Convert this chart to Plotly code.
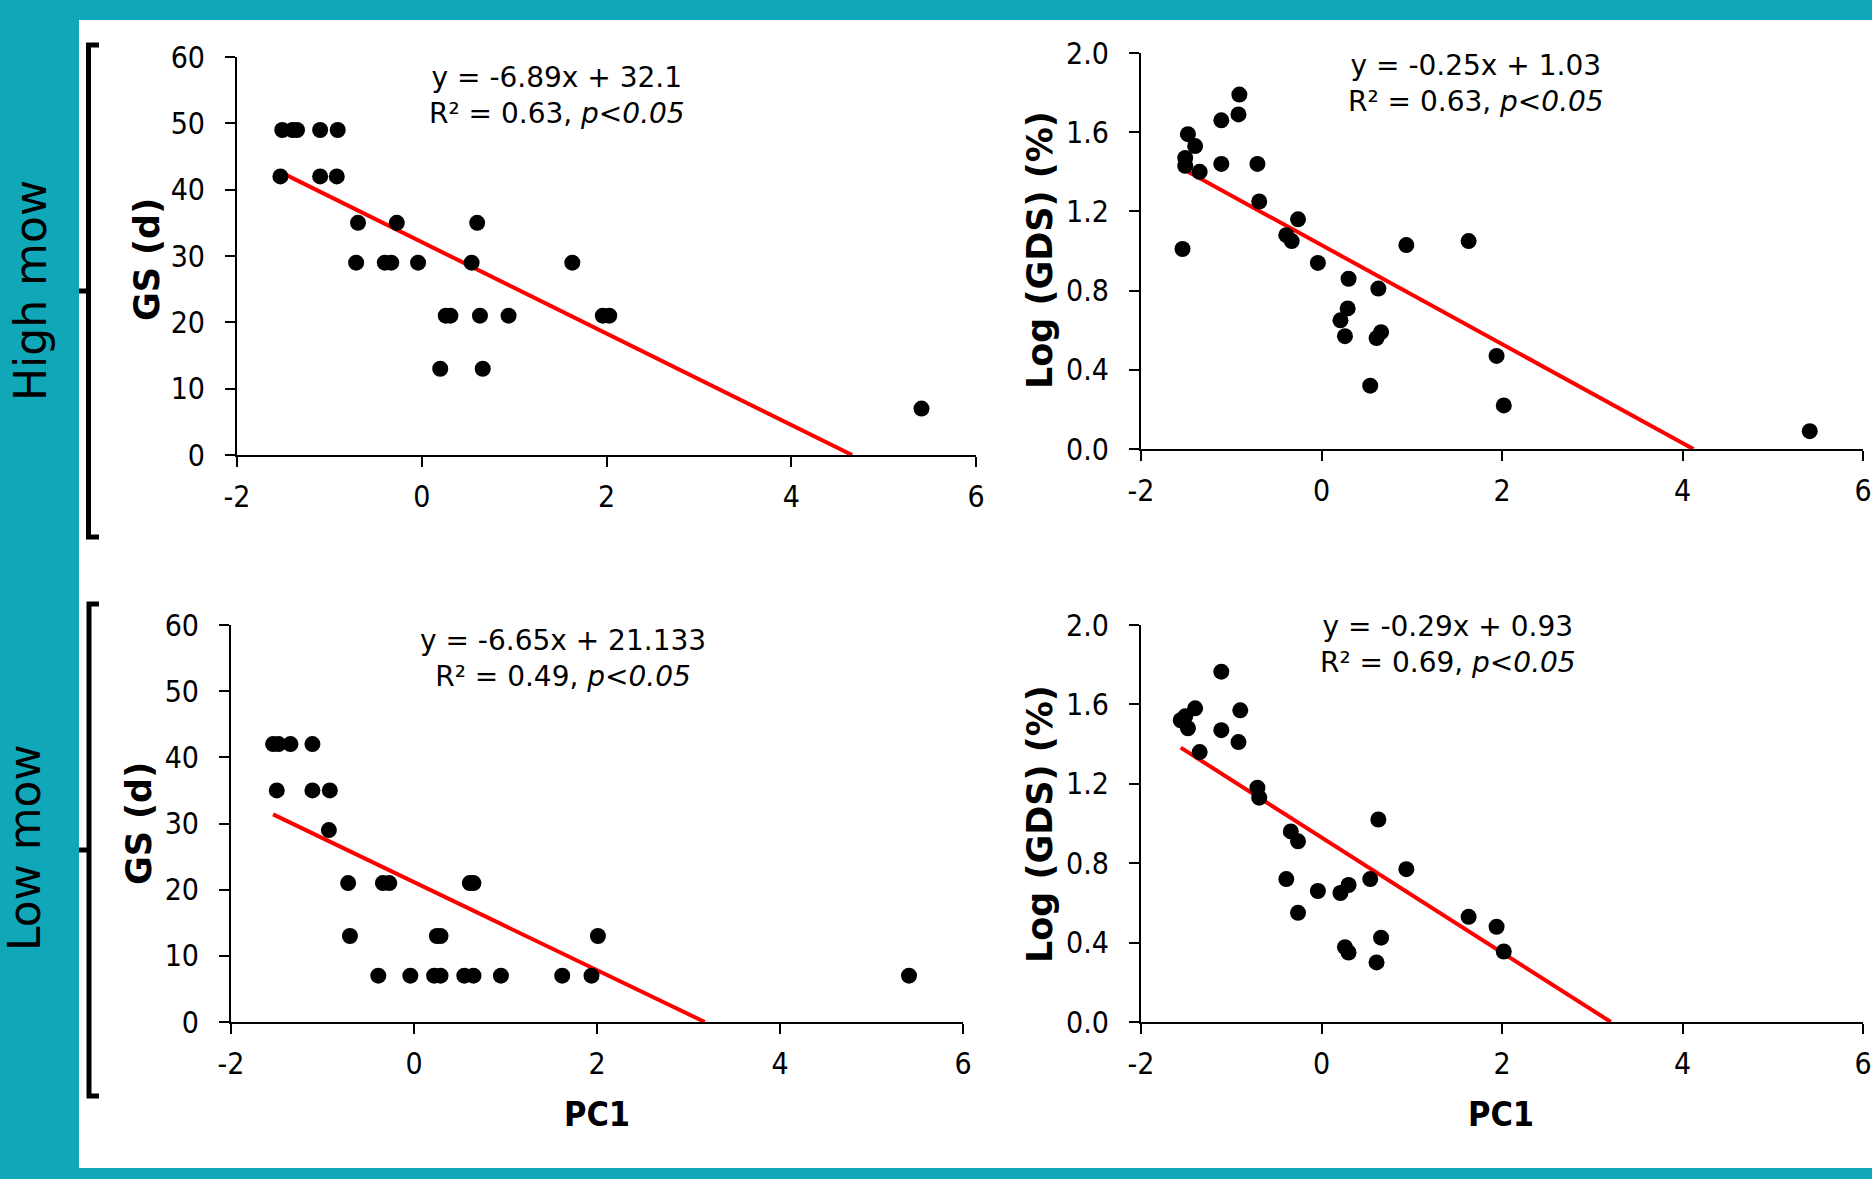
import plotly.graph_objects as go

W, H = 1872, 1179
TEAL = "rgb(16,168,184)"

# ---------------- data ----------------
# High mow, GS (d)
hi_gs_x = [-1.51, -1.40, -1.35, -1.10, -0.91, -1.53, -1.10, -0.92, -0.69, -0.27, 0.60,
           -0.71, -0.40, -0.33, -0.04, 0.54, 1.63, 0.26, 0.31, 0.63, 0.94, 1.96, 2.03,
           0.20, 0.66, 5.41]
hi_gs_y = [49, 49, 49, 49, 49, 42, 42, 42, 35, 35, 35,
           29, 29, 29, 29, 29, 29, 21, 21, 21, 21, 21, 21,
           13, 13, 7]

# High mow, Log (GDS) (%)
hi_gds_x = [-0.91, -0.92, -1.11, -1.48, -1.40, -1.51, -1.51, -1.35, -1.11, -0.71,
            -0.69, -0.26, -0.39, -0.33, -1.54, -0.04, 0.94, 1.63, 0.30, 0.63,
            0.29, 0.21, 0.26, 0.66, 0.61, 0.54, 1.94, 2.02, 5.41]
hi_gds_y = [1.79, 1.69, 1.66, 1.59, 1.53, 1.47, 1.43, 1.40, 1.44, 1.44,
            1.25, 1.16, 1.08, 1.05, 1.01, 0.94, 1.03, 1.05, 0.86, 0.81,
            0.71, 0.65, 0.57, 0.59, 0.56, 0.32, 0.47, 0.22, 0.09]

# Low mow, GS (d)
lo_gs_x = [-1.54, -1.48, -1.35, -1.11, -1.50, -1.11, -0.92, -0.93,
           -0.72, -0.34, -0.27, 0.61, 0.65, -0.70, 0.25, 0.29, 2.01,
           -0.39, -0.04, 0.22, 0.29, 0.55, 0.65, 0.95, 1.62, 1.94, 5.41]
lo_gs_y = [42, 42, 42, 42, 35, 35, 35, 29,
           21, 21, 21, 21, 21, 13, 13, 13, 13,
           7, 7, 7, 7, 7, 7, 7, 7, 7, 7]

# Low mow, Log (GDS) (%)
lo_gds_x = [-1.11, -0.90, -1.40, -1.51, -1.56, -1.48, -1.11, -0.92, -1.35, -0.71,
            -0.69, 0.63, -0.34, -0.26, 0.94, -0.39, 0.54, -0.04, 0.30, 0.21,
            -0.26, 1.63, 1.94, 0.66, 0.26, 0.30, 2.02, 0.61]
lo_gds_y = [1.765, 1.57, 1.58, 1.54, 1.52, 1.48, 1.47, 1.41, 1.36, 1.18,
            1.13, 1.02, 0.96, 0.91, 0.77, 0.72, 0.72, 0.66, 0.69, 0.65,
            0.55, 0.53, 0.48, 0.425, 0.377, 0.35, 0.355, 0.30]

# regression fits: slope, intercept
fit_slopes = [-6.89, -0.25, -6.65, -0.29]
fit_intercepts = [32.1, 1.03, 21.133, 0.93]
eq_line1 = ["y = -6.89x + 32.1", "y = -0.25x + 1.03", "y = -6.65x + 21.133", "y = -0.29x + 0.93"]
eq_line2 = ["R² = 0.63, <i>p&lt;0.05</i>", "R² = 0.63, <i>p&lt;0.05</i>",
            "R² = 0.49, <i>p&lt;0.05</i>", "R² = 0.69, <i>p&lt;0.05</i>"]
y_titles = ["GS (d)", "Log (GDS) (%)", "GS (d)", "Log (GDS) (%)"]
row_labels = ["High mow", "Low mow"]
x_title = "PC1"

x_ticks = [-2, 0, 2, 4, 6]
x_ticklabels = ["-2", "0", "2", "4", "6"]
gs_ticks = [0, 10, 20, 30, 40, 50, 60]
gds_ticks = [0.0, 0.4, 0.8, 1.2, 1.6, 2.0]

# ---------------- layout helpers (pixel -> paper) ----------------
def px(x):
    return x / W

def py(y):
    return 1 - y / H

# plot areas in pixels: (left, right, top, bottom)
areas = [(237, 976, 57, 455), (1141, 1863, 53, 449),
         (231, 963, 625, 1022), (1141, 1863, 625, 1022)]

TICKFONT = dict(family="DejaVu Sans Condensed, Tahoma, Liberation Sans, sans-serif", size=30, color="black")
EQFONT = dict(family="DejaVu Sans, Verdana, sans-serif", size=28, color="black")
TITLEFONT = dict(family="DejaVu Sans, Verdana, sans-serif", size=35, color="black")

fig = go.Figure()

datasets = [(hi_gs_x, hi_gs_y), (hi_gds_x, hi_gds_y), (lo_gs_x, lo_gs_y), (lo_gds_x, lo_gds_y)]

layout_axes = {}
for i, ((xs, ys), (l, r, t, b)) in enumerate(zip(datasets, areas)):
    n = i + 1
    xa = "x" if n == 1 else f"x{n}"
    ya = "y" if n == 1 else f"y{n}"
    m, c = fit_slopes[i], fit_intercepts[i]
    x0 = min(xs)
    x1 = -c / m
    fig.add_trace(go.Scatter(x=[x0, x1], y=[m * x0 + c, m * x1 + c], mode="lines",
                             line=dict(color="#ff0000", width=4), xaxis=xa, yaxis=ya,
                             showlegend=False, hoverinfo="skip", cliponaxis=False))
    fig.add_trace(go.Scatter(x=xs, y=ys, mode="markers",
                             marker=dict(color="black", size=16, line=dict(width=0)),
                             xaxis=xa, yaxis=ya, showlegend=False, cliponaxis=False))
    is_gs = (i % 2 == 0)
    common = dict(showgrid=False, zeroline=False, showline=True, linecolor="black",
                  linewidth=2, ticks="outside", ticklen=10, tickwidth=2,
                  tickcolor="black", tickfont=TICKFONT, fixedrange=True,
                  automargin=False)
    layout_axes["xaxis" if n == 1 else f"xaxis{n}"] = dict(
        domain=[px(l), px(r)], range=[-2, 6], tickvals=x_ticks, ticktext=x_ticklabels,
        anchor=ya, ticklabelstandoff=4, **common)
    layout_axes["yaxis" if n == 1 else f"yaxis{n}"] = dict(
        domain=[py(b), py(t)], range=[0, 60] if is_gs else [0, 2],
        tickvals=gs_ticks if is_gs else gds_ticks,
        ticktext=[str(v) for v in gs_ticks] if is_gs else [f"{v:.1f}" for v in gds_ticks],
        anchor=xa, ticklabelstandoff=14, **common)

fig.update_layout(**layout_axes)

annotations = []
# equation text block centres (pixels)
eq_pos = [(557, 95), (1476, 84), (563, 658), (1448, 644)]
for i in range(4):
    xc, yc = eq_pos[i]
    annotations.append(dict(x=px(xc), y=py(yc), xref="paper", yref="paper",
                            text=eq_line1[i] + "<br>" + eq_line2[i], showarrow=False,
                            font=EQFONT, align="center",
                            xanchor="center", yanchor="middle"))

# y-axis titles
ytitle_pos = [(147, 260), (1040, 250), (139, 824), (1040, 824)]
for i in range(4):
    annotations.append(dict(x=px(ytitle_pos[i][0]), y=py(ytitle_pos[i][1]),
                            xref="paper", yref="paper", text=f"<b>{y_titles[i]}</b>",
                            textangle=-90, showarrow=False, font=TITLEFONT,
                            xanchor="center", yanchor="middle"))

# x-axis titles
for xc in (597, 1501):
    annotations.append(dict(x=px(xc), y=py(1114), xref="paper", yref="paper",
                            text=f"<b>{x_title}</b>", showarrow=False,
                            font=dict(family="DejaVu Sans Condensed, Tahoma, sans-serif",
                                      size=34, color="black"),
                            xanchor="center", yanchor="middle"))

# row labels
for (xc, yc), lab in zip([(30, 291), (24, 848)], row_labels):
    annotations.append(dict(x=px(xc), y=py(yc), xref="paper", yref="paper",
                            text=lab, textangle=-90, showarrow=False,
                            font=dict(family="DejaVu Sans, Verdana, sans-serif", size=44, color="black"),
                            xanchor="center", yanchor="middle"))

shapes = [dict(type="rect", xref="paper", yref="paper", x0=px(79), x1=1.0,
               y0=py(1168), y1=py(20), fillcolor="white", line=dict(width=0), layer="below")]

def bracket(top, bottom, xv, xarm, xnotch):
    mid = (top + bottom) / 2
    p = (f"M {px(xarm)} {py(top)} L {px(xv)} {py(top)} L {px(xv)} {py(bottom)} L {px(xarm)} {py(bottom)} "
         f"M {px(xnotch)} {py(mid)} L {px(xv)} {py(mid)}")
    return dict(type="path", xref="paper", yref="paper", path=p,
                line=dict(color="black", width=5))

shapes.append(bracket(45, 537, 88.5, 99, 79))
shapes.append(bracket(604, 1096, 89, 99, 79))

fig.update_layout(width=W, height=H, margin=dict(l=0, r=0, t=0, b=0, pad=0),
                  autosize=False,
                  paper_bgcolor=TEAL, plot_bgcolor="rgba(0,0,0,0)",
                  annotations=annotations, shapes=shapes, showlegend=False)

fig.write_html("out.html", config={"displayModeBar": False},
               post_script="document.body.style.margin='0';document.body.style.overflow='hidden';")
